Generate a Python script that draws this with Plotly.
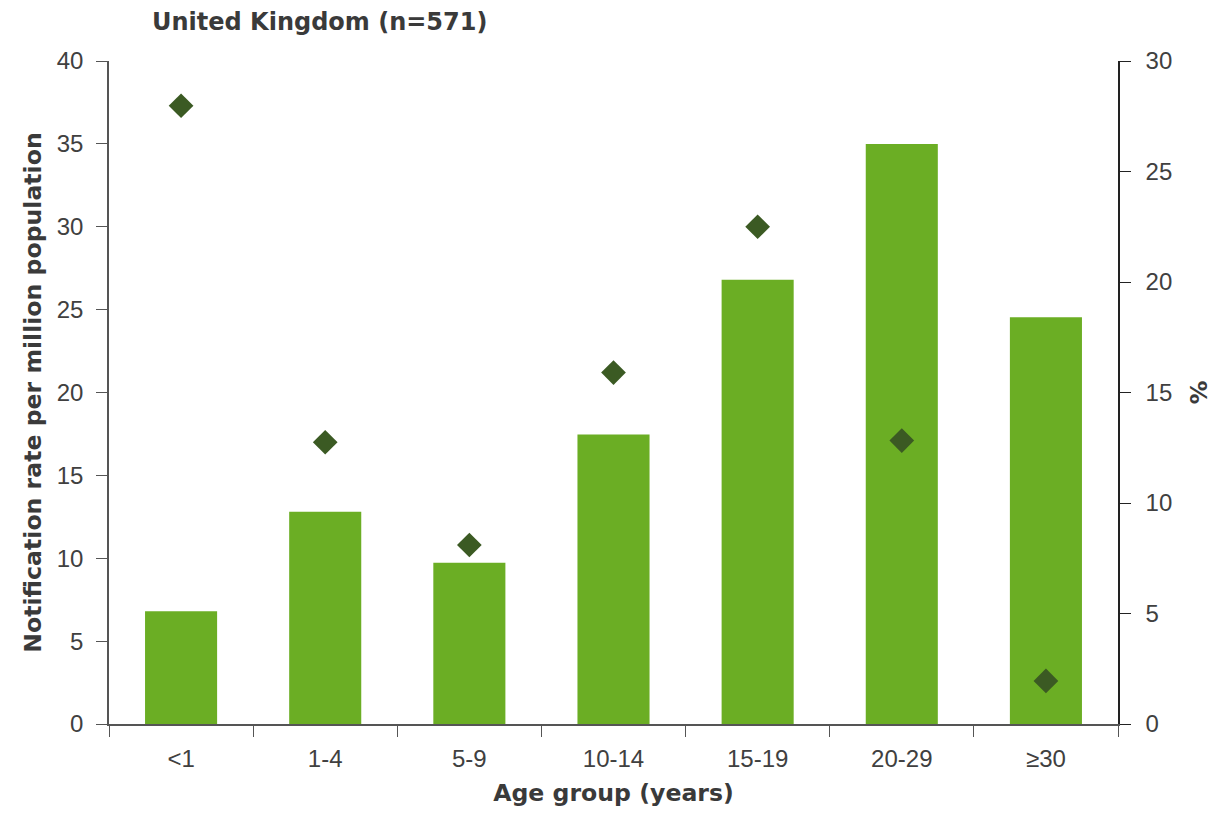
import plotly.graph_objects as go

age_groups = ["<1", "1-4", "5-9", "10-14", "15-19", "20-29", "≥30"]
percent_cases = [5.1, 9.6, 7.3, 13.1, 20.1, 26.25, 18.4]
notification_rate = [37.3, 17.0, 10.8, 21.2, 30.0, 17.1, 2.6]
left_ticks = [0, 5, 10, 15, 20, 25, 30, 35, 40]
right_ticks = [0, 5, 10, 15, 20, 25, 30]

tick_font = dict(family="Liberation Sans, Arial, sans-serif", size=24, color="#404040")
axis_title_font = dict(family="DejaVu Sans, Verdana, sans-serif", size=23.6, color="#3a3a3a")
title_font = dict(family="DejaVu Sans, Verdana, sans-serif", size=24, color="#3a3a3a")

fig = go.Figure()
fig.add_trace(go.Bar(
    x=age_groups, y=percent_cases, marker=dict(color="#6BAE24", line=dict(width=0)),
    width=0.5, yaxis="y", name="%", showlegend=False,
))
fig.add_trace(go.Scatter(
    x=age_groups, y=notification_rate, mode="markers", yaxis="y2",
    marker=dict(symbol="diamond", size=19, color="#3B5A23"),
    name="Notification rate", showlegend=False,
))

fig.update_layout(
    width=1211, height=810,
    margin=dict(l=101, r=101, t=53, b=94, autoexpand=False),
    plot_bgcolor="white", paper_bgcolor="white",
    title=dict(text="<b>United Kingdom (n=571)</b>", x=144/1211, xanchor="left",
               y=1 - 14/810, yanchor="middle", font=title_font),
    xaxis=dict(
        type="category", tickson="boundaries", ticks="outside", ticklen=11,
        tickcolor="#555555", showline=True, linecolor="#555555", linewidth=1.5,
        tickfont=tick_font, showgrid=False, automargin=False, ticklabelstandoff=12,
        title=dict(text="<b>Age group (years)</b>", font=axis_title_font, standoff=14),
    ),
    yaxis=dict(
        side="right", range=[0, 30], tickvals=right_ticks, ticks="outside", ticklen=11,
        tickcolor="#222222", showline=True, linecolor="#222222", linewidth=1.5,
        showgrid=False, zeroline=False, tickfont=tick_font, automargin=False,
        ticklabelstandoff=10,
        title=dict(text="<b>%</b>", font=axis_title_font, standoff=19),
    ),
    yaxis2=dict(
        side="left", overlaying="y", range=[0, 40], tickvals=left_ticks, ticks="outside", ticklen=11,
        tickcolor="#555555", showline=True, linecolor="#555555", linewidth=1.5,
        showgrid=False, zeroline=False, tickfont=tick_font, automargin=False,
        ticklabelstandoff=8,
        title=dict(text="<b>Notification rate per million population</b>", font=axis_title_font, standoff=8),
    ),
)

fig.write_html("out.html")
